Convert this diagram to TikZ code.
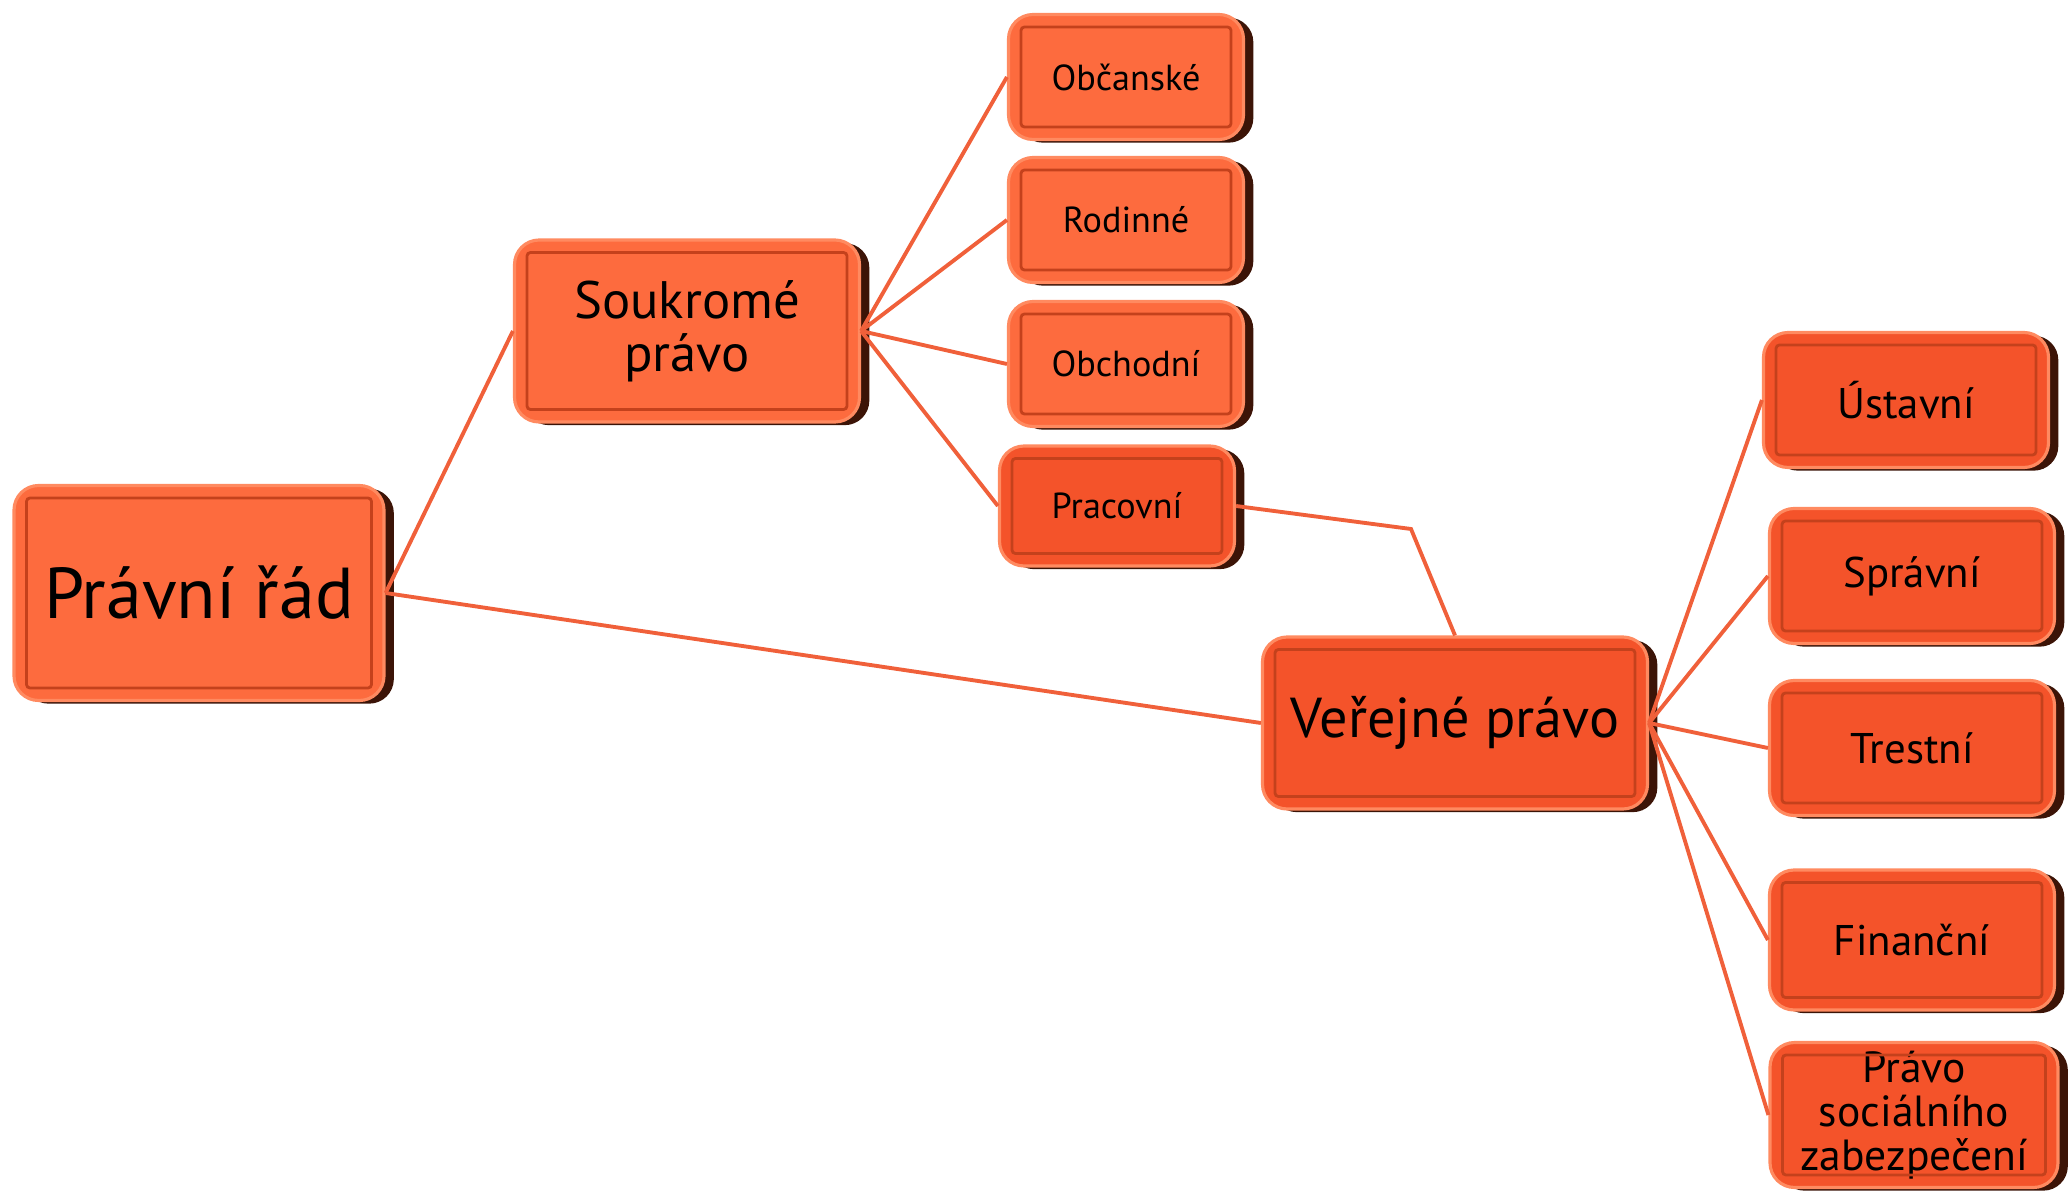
\documentclass[tikz,border=0pt]{standalone}
\usepackage{fontspec}
\setmainfont{PT Sans}
\usetikzlibrary{shadows}

\definecolor{lightfill}{HTML}{FD6B3E}
\definecolor{deepfill}{HTML}{F4532A}
\definecolor{rim}{HTML}{3C1407}
\definecolor{rimlight}{HTML}{FF8A60}
\definecolor{bevel}{HTML}{C4411C}
\definecolor{linkcol}{HTML}{F0603A}

\begin{document}
\begin{tikzpicture}[
	box/.style={rounded corners=7pt, fill=lightfill, draw=rimlight, line width=0.9pt,
		align=center, inner sep=0pt,
		drop shadow={shadow xshift=2.8pt, shadow yshift=-0.9pt, fill=rim, opacity=1}},
	deep/.style={box, fill=deepfill},
	frame/.style={draw=bevel, line width=0.8pt, rounded corners=1pt},
	link/.style={draw=linkcol, line width=1.1pt}
]
	\useasboundingbox (0,0) rectangle (20.72,12.03);

	% root
	\node[box, minimum width=3.7cm, minimum height=2.15cm, font=\fontsize{20.5}{22}\selectfont] (rad) at (1.99,6.10) {Právní řád};

	% private law
	\node[box, minimum width=3.45cm, minimum height=1.82cm, font=\fontsize{15}{15}\selectfont] (souk) at (6.87,8.72) {Soukromé\\právo};
	\node[box, minimum width=2.35cm, minimum height=1.25cm, font=\fontsize{10.3}{11}\selectfont] (obc) at (11.26,11.26) {Občanské};
	\node[box, minimum width=2.35cm, minimum height=1.25cm, font=\fontsize{10.3}{11}\selectfont] (rod) at (11.26,9.83) {Rodinné};
	\node[box, minimum width=2.35cm, minimum height=1.25cm, font=\fontsize{10.3}{11}\selectfont] (obch) at (11.26,8.39) {Obchodní};
	\node[deep, minimum width=2.35cm, minimum height=1.20cm, font=\fontsize{10.3}{11}\selectfont] (prac) at (11.17,6.97) {Pracovní};

	% public law
	\node[deep, minimum width=3.85cm, minimum height=1.72cm, font=\fontsize{16}{16}\selectfont] (ver) at (14.55,4.80) {Veřejné právo};
	\node[deep, minimum width=2.85cm, minimum height=1.35cm, font=\fontsize{12.2}{13}\selectfont] (ust) at (19.06,8.03) {Ústavní};
	\node[deep, minimum width=2.85cm, minimum height=1.35cm, font=\fontsize{12.2}{13}\selectfont] (spr) at (19.12,6.27) {Správní};
	\node[deep, minimum width=2.85cm, minimum height=1.35cm, font=\fontsize{12.2}{13}\selectfont] (tre) at (19.12,4.55) {Trestní};
	\node[deep, minimum width=2.85cm, minimum height=1.40cm, font=\fontsize{12.2}{13}\selectfont] (fin) at (19.12,2.63) {Finanční};
	\node[deep, minimum width=2.88cm, minimum height=1.45cm, font=\fontsize{12.4}{12.6}\selectfont] (soc) at (19.14,0.88) {Právo\\sociálního\\zabezpečení};

	% bevel frames
	\foreach \n in {rad,souk,obc,rod,obch,prac,ver,ust,spr,tre,fin,soc}
		\draw[frame] ([shift={(4pt,-4pt)}]\n.north west) rectangle ([shift={(-4pt,4pt)}]\n.south east);

	% links
	\draw[link] (rad.east) -- (souk.west);
	\draw[link] (rad.east) -- (ver.west);
	\foreach \n in {obc,rod,obch,prac}
		\draw[link] (souk.east) -- (\n.west);
	\coordinate (bend) at (14.11,6.74);
	\draw[link] (prac.east) -- (bend) -- (ver.north);
	\foreach \n in {ust,spr,tre,fin,soc}
		\draw[link] (ver.east) -- (\n.west);
\end{tikzpicture}
\end{document}
